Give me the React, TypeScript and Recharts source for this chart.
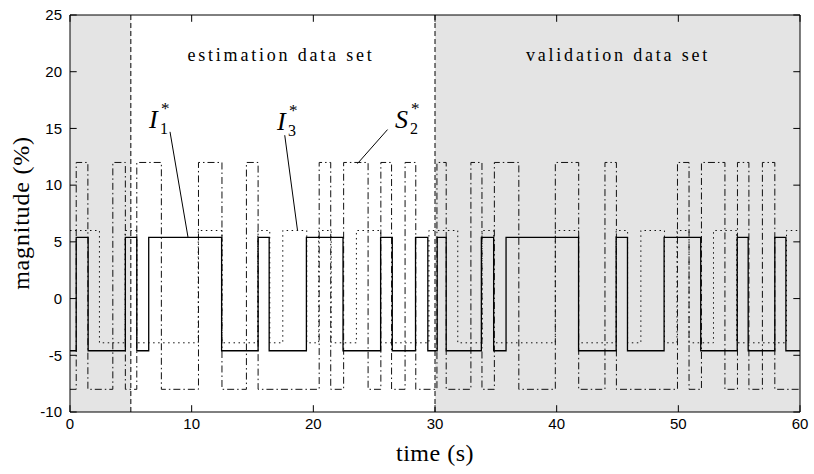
import React from 'react';
import { LineChart, Line, XAxis, YAxis, ReferenceArea, ReferenceLine } from 'recharts';

// levels of the three test signals (%)
const I1_HIGH = 5.4;
const I1_LOW = -4.6;
const I3_HIGH = 6;
const I3_LOW = -3.9;
const S2_HIGH = 12;
const S2_LOW = -8;

// switching instants (s) and the level taken from each instant on
const I1_STEPS: [number, number][] = [
  [0, I1_LOW], [0.51, I1_HIGH], [1.49, I1_LOW], [4.55, I1_HIGH], [5.49, I1_LOW], [6.47, I1_HIGH],
  [12.46, I1_LOW], [15.46, I1_HIGH], [16.37, I1_LOW], [19.43, I1_HIGH], [22.44, I1_LOW],
  [25.53, I1_HIGH], [26.49, I1_LOW], [28.4, I1_HIGH], [29.41, I1_LOW], [30.18, I1_HIGH],
  [30.92, I1_LOW], [33.81, I1_HIGH], [34.82, I1_LOW], [35.84, I1_HIGH], [41.8, I1_LOW],
  [44.89, I1_HIGH], [45.82, I1_LOW], [48.83, I1_HIGH], [51.84, I1_LOW], [54.84, I1_HIGH],
  [55.74, I1_LOW], [57.93, I1_HIGH], [58.84, I1_LOW], [60, I1_LOW],
];

const I3_STEPS: [number, number][] = [
  [0, I3_HIGH], [2.42, I3_LOW], [4.53, I3_HIGH], [5.49, I3_LOW], [10.54, I3_HIGH], [12.49, I3_LOW],
  [15.44, I3_HIGH], [16.42, I3_LOW], [17.49, I3_HIGH], [19.46, I3_LOW], [20.44, I3_HIGH],
  [21.47, I3_LOW], [23.54, I3_HIGH], [25.53, I3_LOW], [29.5, I3_HIGH], [31.87, I3_LOW],
  [33.87, I3_HIGH], [34.82, I3_LOW], [39.89, I3_HIGH], [41.8, I3_LOW], [44.89, I3_HIGH],
  [45.83, I3_LOW], [46.92, I3_HIGH], [48.86, I3_LOW], [49.89, I3_HIGH], [50.88, I3_LOW],
  [52.89, I3_HIGH], [54.79, I3_LOW], [58.89, I3_HIGH], [60, I3_HIGH],
];

const S2_STEPS: [number, number][] = [
  [0, S2_LOW], [0.51, S2_HIGH], [1.47, S2_LOW], [3.52, S2_HIGH], [4.55, S2_LOW], [5.49, S2_HIGH],
  [7.51, S2_LOW], [10.56, S2_HIGH], [12.49, S2_LOW], [14.5, S2_HIGH], [15.46, S2_LOW],
  [20.48, S2_HIGH], [21.43, S2_LOW], [22.49, S2_HIGH], [24.5, S2_LOW], [25.55, S2_HIGH],
  [26.43, S2_LOW], [27.54, S2_HIGH], [28.42, S2_LOW], [30.16, S2_HIGH], [30.92, S2_LOW],
  [32.95, S2_HIGH], [33.86, S2_LOW], [34.88, S2_HIGH], [36.89, S2_LOW], [39.89, S2_HIGH],
  [41.81, S2_LOW], [43.97, S2_HIGH], [44.91, S2_LOW], [49.93, S2_HIGH], [50.88, S2_LOW],
  [51.9, S2_HIGH], [53.83, S2_LOW], [54.86, S2_HIGH], [55.8, S2_LOW], [56.91, S2_HIGH],
  [57.93, S2_LOW], [60, S2_LOW],
];

const X_TICKS = [0, 10, 20, 30, 40, 50, 60];
const Y_TICKS = [-10, -5, 0, 5, 10, 15, 20, 25];

// data-set boundaries (s)
const ESTIMATION_START = 5;
const VALIDATION_START = 30;

// annotation leaders: [t0, v0, t1, v1]
const LEADERS: [number, number, number, number][] = [
  [8.22, 14.7, 9.7, I1_HIGH],
  [17.65, 14.4, 18.7, I3_HIGH],
  [26.1, 14.9, 23.63, 11.9],
];

const toPoints = (steps: [number, number][]) => steps.map(([x, y]) => ({ x, y }));

const W = 814;
const H = 474;
const SERIF = '"Liberation Serif", "Times New Roman", serif';
const SANS = '"Liberation Sans", Arial, sans-serif';

const tickStyle = { fontFamily: SANS, fontSize: 15, fill: '#000' };

export default function App() {
  return (
    <div style={{ position: 'relative', width: W, height: H }}>
      <style>{'body{margin:0}'}</style>
      <LineChart width={W} height={H} margin={{ top: 15, right: 14, bottom: 22, left: 10 }}>
        <XAxis
          dataKey="x"
          type="number"
          domain={[0, 60]}
          ticks={X_TICKS}
          tickLine={false}
          tickSize={4}
          tickMargin={2}
          axisLine={{ stroke: '#000' }}
          tick={tickStyle}
          height={40}
          allowDataOverflow
        />
        <YAxis
          type="number"
          domain={[-10, 25]}
          ticks={Y_TICKS}
          tickLine={false}
          tickSize={6}
          tickMargin={2}
          axisLine={{ stroke: '#000' }}
          tick={tickStyle}
          width={60}
          allowDataOverflow
        />
        <ReferenceArea x1={0} x2={ESTIMATION_START} y1={-10} y2={25} fill="#e4e4e4" fillOpacity={1} stroke="none" />
        <ReferenceArea x1={VALIDATION_START} x2={60} y1={-10} y2={25} fill="#e4e4e4" fillOpacity={1} stroke="none" />
        <ReferenceLine x={ESTIMATION_START} stroke="#000" strokeDasharray="5 3" />
        <ReferenceLine x={VALIDATION_START} stroke="#000" strokeDasharray="5 3" />
        <ReferenceLine y={25} stroke="#000" />
        <ReferenceLine x={60} stroke="#000" />
        {X_TICKS.map((t) => (
          <ReferenceLine key={`bt${t}`} segment={[{ x: t, y: -10 }, { x: t, y: -9.4 }]} stroke="#000" />
        ))}
        {X_TICKS.map((t) => (
          <ReferenceLine key={`tt${t}`} segment={[{ x: t, y: 25 }, { x: t, y: 24.4 }]} stroke="#000" />
        ))}
        {Y_TICKS.map((v) => (
          <ReferenceLine key={`lt${v}`} segment={[{ x: 0, y: v }, { x: 0.55, y: v }]} stroke="#000" />
        ))}
        {Y_TICKS.map((v) => (
          <ReferenceLine key={`rt${v}`} segment={[{ x: 60, y: v }, { x: 59.45, y: v }]} stroke="#000" />
        ))}
        {LEADERS.map(([t0, v0, t1, v1], i) => (
          <ReferenceLine key={`ld${i}`} segment={[{ x: t0, y: v0 }, { x: t1, y: v1 }]} stroke="#000" />
        ))}
        <Line data={toPoints(S2_STEPS)} dataKey="y" type="stepAfter" stroke="#111" strokeWidth={1}
          strokeDasharray="7 3 1.5 3" dot={false} isAnimationActive={false} />
        <Line data={toPoints(I3_STEPS)} dataKey="y" type="stepAfter" stroke="#111" strokeWidth={1}
          strokeDasharray="1.5 3.5" dot={false} isAnimationActive={false} />
        <Line data={toPoints(I1_STEPS)} dataKey="y" type="stepAfter" stroke="#000" strokeWidth={1.3}
          dot={false} isAnimationActive={false} />
      </LineChart>
      <svg width={W} height={H} style={{ position: 'absolute', left: 0, top: 0, pointerEvents: 'none' }}>
        <g fontFamily={SERIF} fill="#000">
          <text x={281} y={61} fontSize={18} letterSpacing={2.8} textAnchor="middle">estimation data set</text>
          <text x={618} y={61} fontSize={18} letterSpacing={2.8} textAnchor="middle">validation data set</text>
          <text x={149} y={128} fontSize={26} fontStyle="italic">I</text>
          <text x={160} y={134} fontSize={16}>1</text>
          <text x={161} y={114} fontSize={17}>*</text>
          <text x={277} y={130} fontSize={26} fontStyle="italic">I</text>
          <text x={288} y={136} fontSize={16}>3</text>
          <text x={289} y={116} fontSize={17}>*</text>
          <text x={395} y={128} fontSize={26} fontStyle="italic">S</text>
          <text x={410} y={134} fontSize={16}>2</text>
          <text x={411} y={114} fontSize={17}>*</text>
          <text x={435} y={461} fontSize={24} letterSpacing={0.5} textAnchor="middle">time (s)</text>
          <text x={0} y={0} fontSize={24} letterSpacing={0.8} textAnchor="middle" transform="translate(29 213) rotate(-90)">magnitude (%)</text>
        </g>
      </svg>
    </div>
  );
}
